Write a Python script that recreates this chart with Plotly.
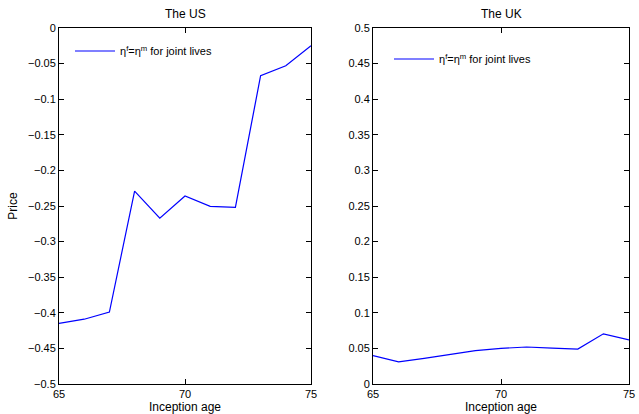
import plotly.graph_objects as go

ages = [65, 66, 67, 68, 69, 70, 71, 72, 73, 74, 75]
us_price = [-0.415, -0.409, -0.399, -0.229, -0.267, -0.236, -0.2505, -0.252, -0.067, -0.053, -0.025]
uk_price = [0.040, 0.031, 0.036, 0.041, 0.047, 0.050, 0.052, 0.0505, 0.049, 0.0705, 0.062]
legend_label = "η<sup>f</sup>=η<sup>m</sup> for joint lives"
titles = ["The US", "The UK"]

W, H = 639, 414
font = dict(family="Liberation Sans, Arial, sans-serif", size=11, color="black")
bigfont = dict(family="Liberation Sans, Arial, sans-serif", size=12, color="black")

fig = go.Figure()
fig.add_trace(go.Scatter(x=ages, y=us_price, mode="lines", name=legend_label, showlegend=True,
                         line=dict(color="#0000ff", width=1.2), xaxis="x", yaxis="y", legend="legend"))
fig.add_trace(go.Scatter(x=ages, y=uk_price, mode="lines", name=legend_label, showlegend=True,
                         line=dict(color="#0000ff", width=1.2), xaxis="x2", yaxis="y2", legend="legend2"))

ydom = [1 - 384 / H, 1 - 28 / H]
axcommon = dict(showgrid=False, zeroline=False, showline=True, linecolor="black", linewidth=1,
                mirror="ticks", ticks="inside", ticklen=5, tickcolor="black", tickfont=font,
                automargin=False)

fig.update_layout(
    width=W, height=H, margin=dict(l=0, r=0, t=0, b=0),
    paper_bgcolor="white", plot_bgcolor="white", font=font, showlegend=True,
    xaxis=dict(domain=[59 / W, 311 / W], range=[65, 75], tickvals=[65, 70, 75], anchor="y",
               title=dict(text="Inception age", font=bigfont, standoff=1), **axcommon),
    yaxis=dict(domain=ydom, range=[-0.5, 0], dtick=0.05, anchor="x",
               title=dict(text="Price", font=bigfont, standoff=7), **axcommon),
    xaxis2=dict(domain=[373 / W, 629 / W], range=[65, 75], tickvals=[65, 70, 75], anchor="y2",
                title=dict(text="Inception age", font=bigfont, standoff=1), **axcommon),
    yaxis2=dict(domain=ydom, range=[0, 0.5], dtick=0.05, anchor="x2", **axcommon),
    legend=dict(x=70 / W, y=1 - 51 / H, xanchor="left", yanchor="middle", bgcolor="rgba(255,255,255,0)",
                font=font, borderwidth=0, itemwidth=40),
    legend2=dict(x=389 / W, y=1 - 59 / H, xanchor="left", yanchor="middle", bgcolor="rgba(255,255,255,0)",
                 font=font, borderwidth=0, itemwidth=40),
    annotations=[
        dict(text=titles[0], x=(59 + 311) / 2 / W, y=1 - 14 / H, xref="paper", yref="paper",
             showarrow=False, font=bigfont, xanchor="center", yanchor="middle"),
        dict(text=titles[1], x=(373 + 629) / 2 / W, y=1 - 14 / H, xref="paper", yref="paper",
             showarrow=False, font=bigfont, xanchor="center", yanchor="middle"),
    ],
)

fig.write_html("out.html")
